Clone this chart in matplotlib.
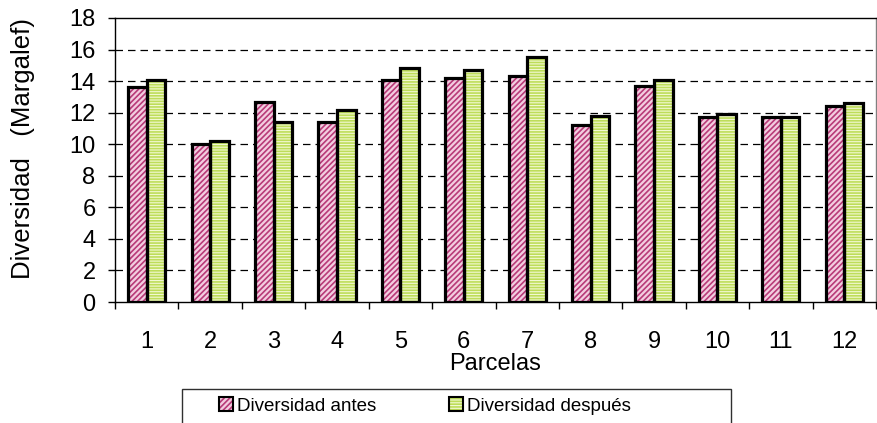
import matplotlib
matplotlib.use("Agg")
import matplotlib.pyplot as plt
import numpy as np
from matplotlib.patches import Patch, Rectangle

plt.rcParams['font.family'] = ['Liberation Sans', 'DejaVu Sans']
plt.rcParams['hatch.linewidth'] = 1.2

parcelas = [str(i) for i in range(1, 13)]
antes = [13.6, 10.0, 12.7, 11.4, 14.1, 14.2, 14.3, 11.2, 13.7, 11.7, 11.7, 12.4]
despues = [14.1, 10.2, 11.4, 12.2, 14.8, 14.7, 15.5, 11.8, 14.1, 11.9, 11.7, 12.6]
yticks = list(range(0, 19, 2))

W, H = 877, 423
fig = plt.figure(figsize=(W / 100, H / 100), dpi=100)
ax = fig.add_axes([115 / W, 1 - 302 / H, (876 - 115) / W, (302 - 18) / H])

pink_face, pink_hatch = '#f3cde0', '#b83a78'
green_face, green_hatch = '#f2f9d2', '#bedd5a'
pink_pat, green_pat = '//////', '------'

x = np.arange(1, len(parcelas) + 1)
w = 0.293
for vals, off, fc, hc, hp in [(antes, -w / 2, pink_face, pink_hatch, pink_pat),
                              (despues, w / 2, green_face, green_hatch, green_pat)]:
    ax.bar(x + off, vals, width=w, facecolor=fc, edgecolor=hc, hatch=hp,
           linewidth=0, zorder=3)
    ax.bar(x + off, vals, width=w, fill=False, edgecolor='black',
           linewidth=2.3, zorder=4)

ax.set_xlim(0.5, 12.5)
ax.set_ylim(0, 18)
ax.set_yticks(yticks)
ax.set_yticklabels([str(v) for v in yticks])
ax.set_xticks(x)
ax.set_xticklabels(parcelas)
ax.set_xticks(np.arange(0.5, 12.6, 1), minor=True)
ax.tick_params(axis='x', which='major', length=0, pad=21, labelsize=17)
ax.tick_params(axis='x', which='minor', length=5, width=1, direction='out')
ax.tick_params(axis='y', which='major', length=5, width=1, direction='out',
               pad=9, labelsize=17)

for v in yticks[1:-1]:
    ax.axhline(v, color='black', lw=0.9, dashes=(6, 4), zorder=1)

for s in ['left', 'bottom', 'top']:
    ax.spines[s].set_color('black')
    ax.spines[s].set_linewidth(1)
ax.spines['right'].set_color('#808080')
ax.spines['right'].set_linewidth(1)

ax.set_xlabel('Parcelas', fontsize=17, labelpad=0)
ax.set_ylabel('Diversidad   (Margalef)', fontsize=18.5)
ax.yaxis.set_label_coords(-0.105, 0.539)

h1 = (Patch(facecolor=pink_face, edgecolor=pink_hatch, hatch=pink_pat, linewidth=0),
      Patch(fill=False, edgecolor='black', linewidth=1.5))
h2 = (Patch(facecolor=green_face, edgecolor=green_hatch, hatch=green_pat, linewidth=0),
      Patch(fill=False, edgecolor='black', linewidth=1.5))
fig.legend([h1, h2], ['Diversidad antes', 'Diversidad después'], ncol=2,
           loc='center left', bbox_to_anchor=(219 / W, 1 - 406 / H),
           bbox_transform=fig.transFigure, frameon=False, fontsize=13.5,
           handlelength=0.75, handleheight=0.75, handletextpad=0.2,
           columnspacing=3.9, borderpad=0, borderaxespad=0)
fig.patches.append(Rectangle((182 / W, 1 - 440 / H), (731 - 182) / W, (440 - 389) / H,
                             transform=fig.transFigure, fill=False,
                             edgecolor='#303030', linewidth=1))

fig.savefig('out.png', dpi=100)
